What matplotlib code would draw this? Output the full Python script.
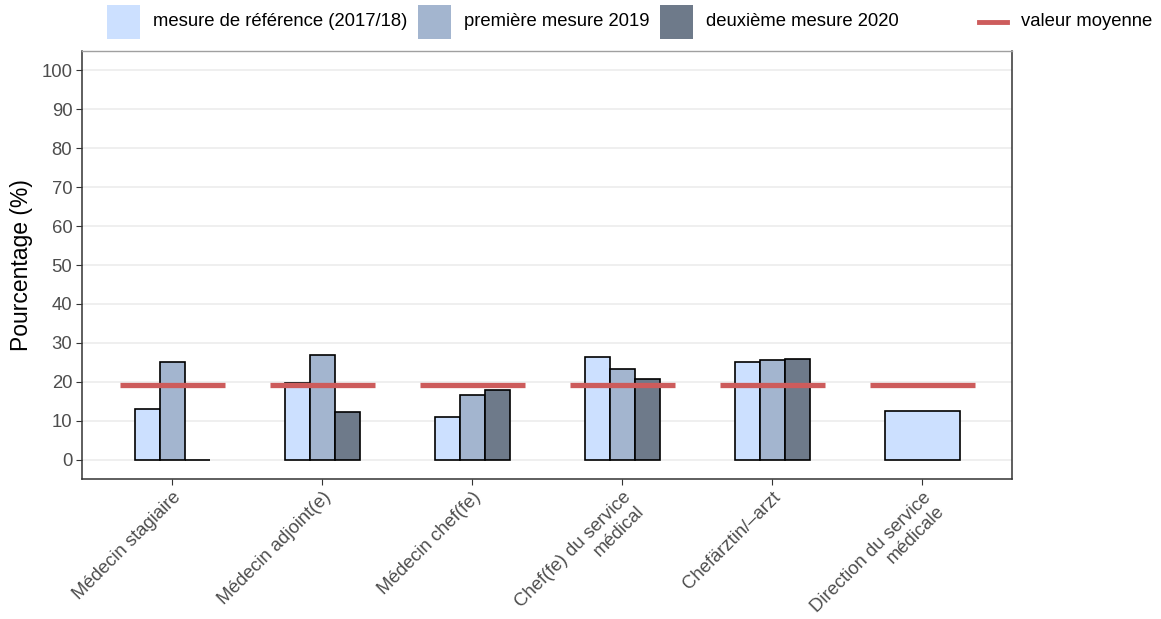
import numpy as np
import matplotlib.pyplot as plt
from matplotlib.patches import Rectangle
from matplotlib.lines import Line2D

plt.rcParams['font.family'] = ['Liberation Sans', 'DejaVu Sans']

categories = ['Médecin stagiaire', 'Médecin adjoint(e)', 'Médecin chef(fe)',
              'Chef(fe) du service\nmédical', 'Chefärztin/–arzt',
              'Direction du service\nmédicale']
series_names = ['mesure de référence (2017/18)', 'première mesure 2019',
                'deuxième mesure 2020']
baseline = [13.0, 19.8, 10.9, 26.3, 25.0, 12.4]
first_2019 = [25.0, 26.9, 16.5, 23.3, 25.5, np.nan]
second_2020 = [0.0, 12.1, 17.8, 20.8, 25.9, np.nan]
mean_value = [19.1, 19.1, 19.1, 19.1, 19.1, 19.1]

colors = ['#cce0ff', '#a3b5cf', '#6e7a8a']
mean_color = '#cd5c5c'

fig = plt.figure(figsize=(11.61, 6.19), dpi=100)
ax = fig.add_axes([82 / 1161, 1 - 479 / 619, 930 / 1161, 428 / 619])

x = np.arange(len(categories))
total_w = 0.5
series = [baseline, first_2019, second_2020]

for i in range(len(categories)):
    vals = [s[i] for s in series]
    present = [k for k, v in enumerate(vals) if not np.isnan(v)]
    w = total_w / len(present)
    for j, k in enumerate(present):
        xpos = x[i] - total_w / 2 + w * (j + 0.5)
        ax.bar(xpos, vals[k], width=w, color=colors[k], edgecolor='black',
               linewidth=1.2, zorder=3)

# mean lines
ax.hlines(mean_value, x - 0.35, x + 0.35, color=mean_color, linewidth=3.8,
          zorder=4)

ax.set_xlim(-0.6, len(categories) - 0.4)
ax.set_ylim(-5, 105)
ax.set_yticks(np.arange(0, 101, 10))
ax.set_xticks(x)
ax.set_xticklabels(categories, rotation=45, ha='right', va='top',
                   rotation_mode='anchor', multialignment='right')
ax.grid(axis='y', color='#ebebeb', linewidth=1.1, zorder=0)
ax.set_axisbelow(True)
ax.tick_params(colors='#333333', labelcolor='#4d4d4d', labelsize=13.3,
               length=4, pad=3)
ax.set_ylabel('Pourcentage (%)', fontsize=16.5, color='black', labelpad=6)

for side in ['left', 'bottom', 'right']:
    ax.spines[side].set_color('#333333')
    ax.spines[side].set_linewidth(1.1)
ax.spines['top'].set_color('#a0a0a0')
ax.spines['top'].set_linewidth(1.0)

# legend on top
leg_x = [107, 418, 660]
for k in range(3):
    fig.patches.append(Rectangle((leg_x[k] / 1161, 1 - 39 / 619), 33 / 1161,
                                 34 / 619, transform=fig.transFigure,
                                 facecolor=colors[k], edgecolor='none'))
    fig.text((leg_x[k] + 46) / 1161, 1 - 22 / 619, series_names[k],
             fontsize=13.3, va='center', ha='left')
fig.add_artist(Line2D([979 / 1161, 1007 / 1161], [1 - 22 / 619, 1 - 22 / 619],
                      transform=fig.transFigure, color=mean_color,
                      linewidth=3.5))
fig.text(1021 / 1161, 1 - 22 / 619, 'valeur moyenne', fontsize=13.3,
         va='center', ha='left')

fig.savefig('out.png', dpi=100)
